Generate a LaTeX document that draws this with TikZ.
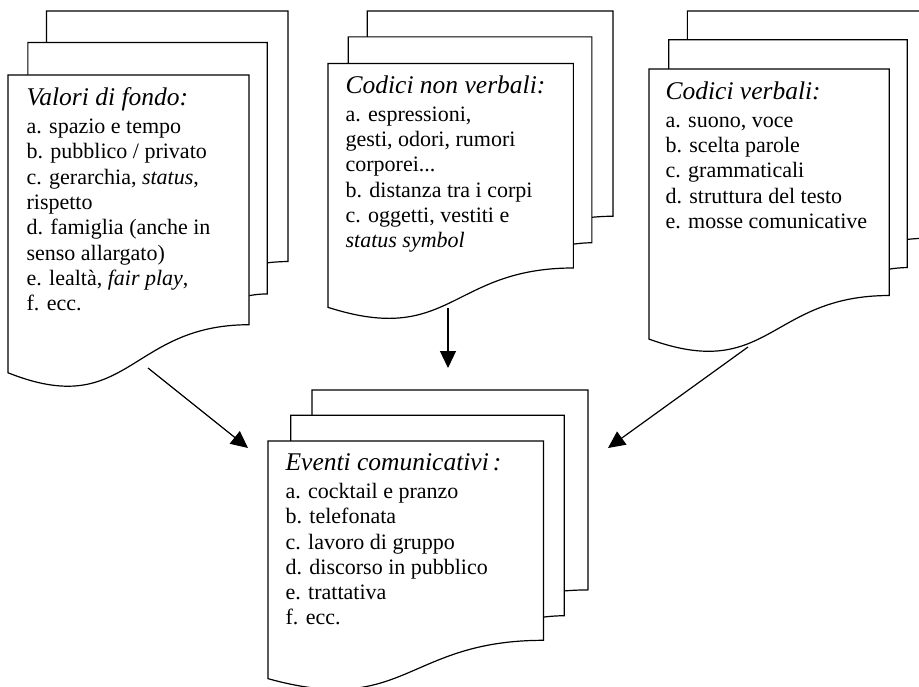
\documentclass[tikz,border=0pt]{standalone}
\usepackage{fontspec}
\setmainfont{Liberation Serif}
\usetikzlibrary{arrows.meta}

\newcommand{\multidoc}[4]{%
  \begin{scope}[shift={(#1,#2)},xscale=#3/21.6,yscale=#4/21.6]
    \draw[fill=white] (2.972,0) -- (21.6,0) -- (21.6,14.392)
      .. controls (20.8,14.392) and (20,14.467) .. (20,14.467) -- (2.972,14.467) -- cycle;
    \draw[fill=white] (1.532,1.815) -- (20,1.815) -- (20,16.252)
      .. controls (19.298,16.252) and (18.595,16.352) .. (18.595,16.352) -- (1.532,16.352) -- cycle;
    \draw[fill=white] (0,3.675) -- (18.595,3.675) -- (18.595,18.022)
      .. controls (9.298,18.022) and (9.298,23.542) .. (0,20.782) -- cycle;
  \end{scope}}
\newcommand{\titolo}[1]{{\fontsize{25.5}{28}\selectfont\itshape #1}}

\begin{document}
\begin{tikzpicture}[x=1pt,y=-1pt,line width=1.2pt,>={Triangle[length=17pt,width=16pt]},
    testo/.style={anchor=north west,align=left,inner sep=0pt,font=\fontsize{22}{25.3}\selectfont}]
  \useasboundingbox (0,0) rectangle (919,686);
  \clip (0,0) rectangle (919,686);

  \multidoc{8}{11}{280}{376}
  \multidoc{328}{11}{285}{308}
  \multidoc{649}{11}{279}{341}
  \multidoc{268}{390}{320}{300}

  \node[testo] (N0) at (26,87) {\titolo{Valori di fondo:}\\[2.7pt]
    a. spazio e tempo\\ b. pubblico / privato\\ c. gerarchia, \textit{status},\\
    rispetto\\ d. famiglia (anche in\\ senso allargato)\\ e. lealtà, \textit{fair play},\\ f. ecc.};
  \node[testo] (N1) at (345,75) {\titolo{Codici non verbali:}\\[2.7pt]
    a. espressioni,\\ gesti, odori, rumori\\ corporei...\\ b. distanza tra i corpi\\
    c. oggetti, vestiti e\\ \textit{status symbol}};
  \node[testo] (N2) at (665,81) {\titolo{Codici verbali:}\\[2.7pt]
    a. suono, voce\\ b. scelta parole\\ c. grammaticali\\ d. struttura del testo\\
    e. mosse comunicative};
  \node[testo] (N3) at (285,453) {\titolo{Eventi comunicativi\hspace{4pt}:}\\[2.7pt]
    a. cocktail e pranzo\\ b. telefonata\\ c. lavoro di gruppo\\ d. discorso in pubblico\\
    e. trattativa\\ f. ecc.};

  \coordinate (A0) at (148,368);
  \coordinate (A1) at (448,308);
  \coordinate (A2) at (748,347);
  \coordinate (B0) at (248,448);
  \coordinate (B1) at (448,368);
  \coordinate (B2) at (608,448);

  \path[->] (A0) edge (B0) (A1) edge (B1) (A2) edge (B2);
\end{tikzpicture}
\end{document}
